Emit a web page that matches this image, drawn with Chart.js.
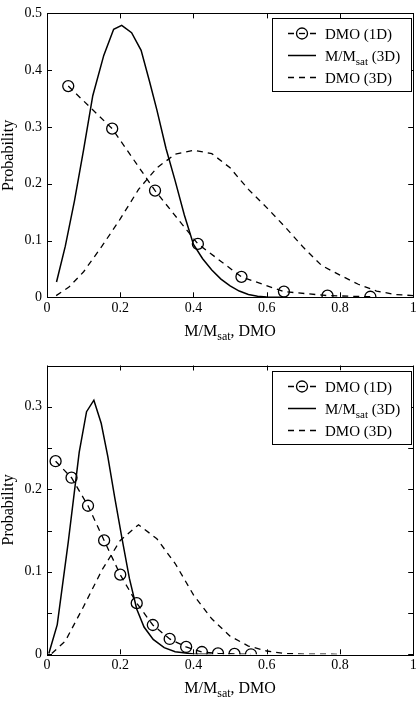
<!DOCTYPE html>
<html>
<head>
<meta charset="utf-8">
<script src="https://cdn.jsdelivr.net/npm/chart.js@4.4.1/dist/chart.umd.min.js"></script>
<style>
  html, body { margin: 0; padding: 0; background: #fff; }
  .wrap { position: relative; width: 420px; }
  #topWrap { height: 340px; }
  #botWrap { height: 362px; }
</style>
</head>
<body>
<div class="wrap" id="topWrap"><canvas id="topChart"></canvas></div>
<div class="wrap" id="botWrap"><canvas id="botChart"></canvas></div>
<script>
// ---- top panel data ----
const topX1D = [0.058, 0.178, 0.295, 0.412, 0.531, 0.647, 0.766, 0.883];
const topY1D = [0.372, 0.297, 0.188, 0.094, 0.036, 0.010, 0.003, 0.001];

const topXSat = [0.026, 0.05, 0.075, 0.1, 0.125, 0.155, 0.182, 0.204, 0.231, 0.257, 0.28, 0.3, 0.325, 0.35, 0.375, 0.4, 0.425, 0.45, 0.475, 0.5, 0.525, 0.55, 0.575, 0.6, 0.65];
const topYSat = [0.027, 0.09, 0.17, 0.26, 0.355, 0.426, 0.472, 0.479, 0.466, 0.435, 0.38, 0.33, 0.262, 0.205, 0.145, 0.093, 0.068, 0.048, 0.032, 0.02, 0.011, 0.005, 0.002, 0.0005, 0];

const topX3D = [0.025, 0.06, 0.1, 0.15, 0.2, 0.25, 0.3, 0.35, 0.4, 0.45, 0.5, 0.55, 0.6, 0.65, 0.7, 0.75, 0.8, 0.85, 0.9, 0.95, 1.0];
const topY3D = [0.003, 0.018, 0.045, 0.09, 0.138, 0.19, 0.228, 0.252, 0.259, 0.253, 0.228, 0.19, 0.158, 0.124, 0.088, 0.056, 0.039, 0.023, 0.011, 0.005, 0.003];

// ---- bottom panel data ----
const botX1D = [0.0235, 0.067, 0.112, 0.156, 0.2, 0.245, 0.289, 0.335, 0.38, 0.423, 0.467, 0.512, 0.557];
const botY1D = [0.234, 0.214, 0.180, 0.138, 0.0965, 0.062, 0.0355, 0.0186, 0.0089, 0.0028, 0.0012, 0.0004, 0];

const botXSat = [0.005, 0.028, 0.058, 0.088, 0.108, 0.128, 0.148, 0.166, 0.185, 0.205, 0.225, 0.245, 0.265, 0.29, 0.32, 0.35, 0.4, 0.45];
const botYSat = [0.001, 0.036, 0.136, 0.245, 0.294, 0.308, 0.28, 0.24, 0.19, 0.14, 0.092, 0.055, 0.033, 0.018, 0.008, 0.003, 0.0005, 0];

const botX3D = [0.013, 0.05, 0.1, 0.15, 0.2, 0.25, 0.3, 0.35, 0.4, 0.45, 0.5, 0.55, 0.6, 0.65, 0.7, 0.8];
const botY3D = [0.001, 0.016, 0.058, 0.102, 0.138, 0.157, 0.14, 0.11, 0.072, 0.043, 0.022, 0.01, 0.004, 0.001, 0.0003, 0];

const xTicks = [0, 0.2, 0.4, 0.6, 0.8, 1];

const serif = '"Liberation Serif", "DejaVu Serif", serif';

const pts = (xs, ys) => xs.map((x, i) => ({ x: x, y: ys[i] }));

// frame, inward ticks, axis titles and legend
const framePlugin = {
    id: 'frame',
    afterDraw(chart) {
        const { ctx, chartArea: a, scales } = chart;
        const xs = scales.x, ys = scales.y;
        const tl = 5;
        ctx.save();
        ctx.strokeStyle = '#000';
        ctx.lineWidth = 1;
        ctx.strokeRect(Math.round(a.left) + 0.5, Math.round(a.top) + 0.5,
            Math.round(a.right - a.left), Math.round(a.bottom - a.top));
        ctx.beginPath();
        xs.ticks.forEach(t => {
            const px = Math.round(xs.getPixelForValue(t.value)) + 0.5;
            ctx.moveTo(px, a.bottom); ctx.lineTo(px, a.bottom - tl);
            ctx.moveTo(px, a.top); ctx.lineTo(px, a.top + tl);
        });
        ys.ticks.forEach(t => {
            const py = Math.round(ys.getPixelForValue(t.value)) + 0.5;
            ctx.moveTo(a.left, py); ctx.lineTo(a.left + tl, py);
            ctx.moveTo(a.right, py); ctx.lineTo(a.right - tl, py);
        });
        ctx.stroke();

        // x title with subscript
        ctx.fillStyle = '#000';
        ctx.textBaseline = 'alphabetic';
        const drawSub = (parts, x, y, size, align) => {
            const subSize = Math.round(size * 0.72);
            let w = 0;
            parts.forEach(p => {
                ctx.font = (p.sub ? subSize : size) + 'px ' + serif;
                w += ctx.measureText(p.t).width;
            });
            let cx = align === 'center' ? x - w / 2 : x;
            ctx.textAlign = 'left';
            parts.forEach(p => {
                ctx.font = (p.sub ? subSize : size) + 'px ' + serif;
                ctx.fillText(p.t, cx, p.sub ? y + 4 : y);
                cx += ctx.measureText(p.t).width;
            });
        };
        drawSub([{ t: 'M/M' }, { t: 'sat', sub: true }, { t: ', DMO' }],
            (a.left + a.right) / 2, a.bottom + 39, 16, 'center');

        // y title
        ctx.save();
        ctx.translate(a.left - 38, (a.top + a.bottom) / 2);
        ctx.rotate(-Math.PI / 2);
        ctx.font = '16px ' + serif;
        ctx.textAlign = 'center';
        ctx.textBaseline = 'middle';
        ctx.fillText('Probability', 0, 0);
        ctx.restore();

        // legend box
        const bx = 272, bw = 139, by = a.top + 5, bh = 73;
        ctx.fillStyle = '#fff';
        ctx.fillRect(bx, by, bw, bh);
        ctx.strokeStyle = '#000';
        ctx.lineWidth = 1;
        ctx.strokeRect(bx + 0.5, Math.round(by) + 0.5, bw, bh);
        const rows = [a.top + 20, a.top + 42, a.top + 64];
        chart.data.datasets.forEach((ds, i) => {
            const y = Math.round(rows[i]) + 0.5;
            ctx.strokeStyle = ds.borderColor;
            ctx.lineWidth = ds.borderWidth;
            ctx.setLineDash(ds.borderDash || []);
            ctx.beginPath();
            ctx.moveTo(288, y); ctx.lineTo(316, y);
            ctx.stroke();
            ctx.setLineDash([]);
            if (ds.pointRadius > 0) {
                ctx.fillStyle = '#fff';
                ctx.beginPath();
                ctx.arc(302, y, ds.pointRadius, 0, Math.PI * 2);
                ctx.fill();
                ctx.lineWidth = ds.pointBorderWidth;
                ctx.stroke();
                ctx.beginPath();
                ctx.moveTo(299, y); ctx.lineTo(305, y);
                ctx.stroke();
            }
            ctx.fillStyle = '#000';
            drawSub(ds.legendParts, 325, y + 5, 15, 'left');
        });
        ctx.restore();
    }
};

function makeChart(id, d, yMax, yStep, padTop, xAxisH) {
    const ctx = document.getElementById(id).getContext('2d');
    return new Chart(ctx, {
        type: 'line',
        data: {
            datasets: [
                {
                    label: 'DMO (1D)',
                    legendParts: [{ t: 'DMO (1D)' }],
                    data: pts(d.x1, d.y1),
                    borderColor: '#000',
                    borderWidth: 1.3,
                    borderDash: [6, 5],
                    pointRadius: 5.5,
                    pointBorderWidth: 1.3,
                    pointBackgroundColor: 'rgba(0,0,0,0)',
                    pointBorderColor: '#000',
                    tension: 0
                },
                {
                    label: 'M/Msat (3D)',
                    legendParts: [{ t: 'M/M' }, { t: 'sat', sub: true }, { t: ' (3D)' }],
                    data: pts(d.xs, d.ys),
                    borderColor: '#000',
                    borderWidth: 1.5,
                    pointRadius: 0,
                    tension: 0
                },
                {
                    label: 'DMO (3D)',
                    legendParts: [{ t: 'DMO (3D)' }],
                    data: pts(d.x3, d.y3),
                    borderColor: '#000',
                    borderWidth: 1.3,
                    borderDash: [6, 5],
                    pointRadius: 0,
                    tension: 0
                }
            ]
        },
        options: {
            responsive: true,
            maintainAspectRatio: false,
            animation: false,
            layout: { padding: { top: padTop, right: 4, left: 0, bottom: 0 } },
            plugins: {
                legend: { display: false },
                tooltip: { enabled: false }
            },
            scales: {
                x: {
                    type: 'linear',
                    min: 0,
                    max: 1,
                    afterBuildTicks: s => { s.ticks = xTicks.map(v => ({ value: v })); },
                    afterFit: s => { s.height = xAxisH; },
                    grid: { display: false, drawTicks: false },
                    border: { display: false },
                    ticks: {
                        color: '#000',
                        padding: 3,
                        maxRotation: 0,
                        font: { family: serif, size: 14 },
                        callback: v => (v === 0 ? '0' : v === 1 ? '1' : v.toFixed(1))
                    }
                },
                y: {
                    min: 0,
                    max: yMax,
                    afterFit: s => { s.width = 47; },
                    grid: { display: false, drawTicks: false },
                    border: { display: false },
                    ticks: {
                        stepSize: yStep,
                        color: '#000',
                        padding: 5,
                        font: { family: serif, size: 14 },
                        callback: v => {
                            const r = Math.round(v * 100);
                            if (r === 0) return '0';
                            if (r % 10 !== 0) return '';
                            return (r / 100).toFixed(1);
                        }
                    }
                }
            }
        },
        plugins: [framePlugin]
    });
}

makeChart('topChart', { x1: topX1D, y1: topY1D, xs: topXSat, ys: topYSat, x3: topX3D, y3: topY3D }, 0.5, 0.1, 8, 42.7);
makeChart('botChart', { x1: botX1D, y1: botY1D, xs: botXSat, ys: botYSat, x3: botX3D, y3: botY3D }, 0.35, 0.05, 25.5, 47.7);
</script>
</body>
</html>
